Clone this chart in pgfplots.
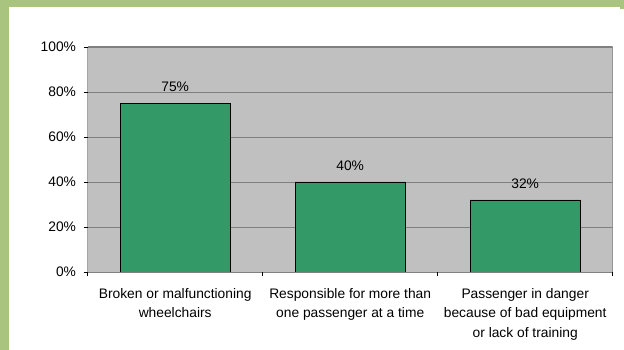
\documentclass[border=0pt]{standalone}
\usepackage{fontspec}
\setmainfont{Liberation Sans}
\usepackage{pgfplots}
\pgfplotsset{compat=1.18}
\definecolor{bord}{HTML}{A8C47F}
\definecolor{plotbg}{HTML}{C0C0C0}
\definecolor{barc}{HTML}{339966}
\definecolor{gridc}{HTML}{808080}
\begin{document}
\begin{tikzpicture}
\fill[white] (0bp,0bp) rectangle (624bp,350bp);
\fill[bord] (0bp,0bp) rectangle (9bp,350bp);
\fill[bord] (0bp,342.6bp) rectangle (624bp,350bp);
\fill[bord] (620bp,340.5bp) rectangle (624bp,350bp);
\begin{axis}[
  at={(87.7bp,78bp)}, anchor=south west,
  scale only axis, width=525bp, height=225bp,
  xmin=-0.5, xmax=2.5, ymin=0, ymax=100,
  axis line style={draw=none},
  axis background/.style={fill=plotbg},
  ytick={0,20,...,100},
  yticklabel={\pgfmathprintnumber{\tick}\%},
  /pgf/number format/assume math mode=true,
  xtick={0,1,2},
  xticklabels={{Broken or malfunctioning\\wheelchairs},{Responsible for more than\\one passenger at a time},{Passenger in danger\\because of bad equipment\\or lack of training}},
  minor xtick={-0.5,0.5,1.5,2.5},
  major x tick style={draw=none},
  tick style={black, line width=0.8bp},
  major tick length=4bp, minor tick length=4bp,
  tick align=outside,
  xtick pos=bottom, ytick pos=left,
  ymajorgrids, major y grid style={gridc, line width=0.8bp},
  ticklabel style={font={\fontsize{13.8bp}{19.6bp}\selectfont}, inner sep=2bp},
  xticklabel style={align=center, yshift=-10bp},
  yticklabel style={xshift=-5.5bp},
  ybar, bar width=110bp,
  nodes near coords={\pgfmathprintnumber{\pgfplotspointmeta}\%},
  every node near coord/.append style={font={\fontsize{13.8bp}{16bp}\selectfont}, inner sep=2bp, yshift=9bp, /pgf/number format/assume math mode=true},
]
\addplot[fill=barc, draw=black, line width=0.8bp] coordinates {(0,75) (1,40) (2,32)};
\draw[gridc, line width=1.2bp] (rel axis cs:0,1) -- (rel axis cs:1,1) -- (rel axis cs:1,0);
\draw[black, line width=0.8bp] (rel axis cs:0,1) -- (rel axis cs:0,0) -- (rel axis cs:1,0);
\end{axis}
\end{tikzpicture}
\end{document}
